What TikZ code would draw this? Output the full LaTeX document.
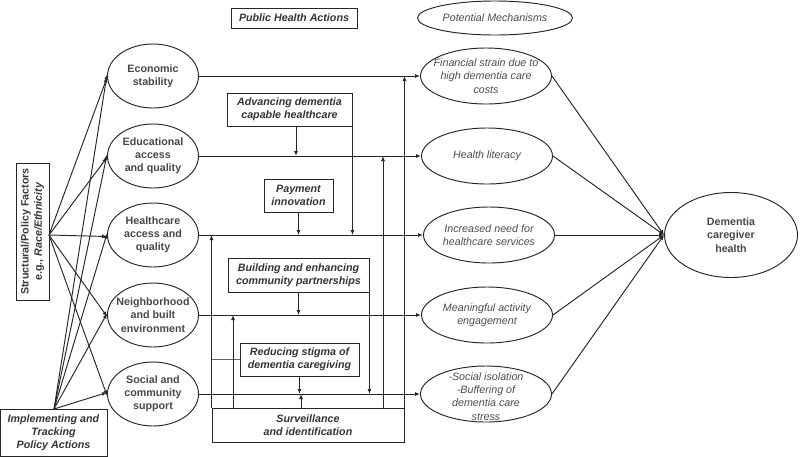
\documentclass[tikz,border=0pt]{standalone}
\usepackage{fontspec}
\setmainfont{Liberation Sans}
\usetikzlibrary{shapes.geometric,arrows.meta}
\newcommand\fsz{\fontsize{10.7}{13.2}\selectfont}
\begin{document}
\begin{tikzpicture}[x=1pt,y=-1pt,
  ln/.style={draw=black!85, line width=0.95pt},
  arr/.style={ln, -{Latex[length=5pt,width=4pt]}},
  lell/.style={ellipse, draw=black!85, line width=0.95pt, minimum width=91pt, minimum height=64pt, inner sep=0pt},
  mell/.style={ellipse, draw=black!85, line width=0.95pt, minimum width=131pt, minimum height=56pt, inner sep=0pt},
  ltxt/.style={align=center, font=\fsz\bfseries, text=black!72, inner sep=0pt},
  mtxt/.style={align=center, font=\fsz\itshape, text=black!70, inner sep=0pt},
  abox/.style={draw=black!85, line width=0.95pt, align=center, font=\fsz\bfseries\itshape, text=black!80, inner sep=2pt}
]
\useasboundingbox (0,0) rectangle (800,456);

% header
\node[abox, minimum width=126pt, minimum height=20pt] (pha) at (294,18) {Public Health Actions};
\node[ellipse, draw=black!85, line width=0.95pt, minimum width=155pt, minimum height=34pt, inner sep=0pt] (pm) at (495,18) {};
\node[mtxt] (pmt) at (pm) {Potential Mechanisms};

% left factor boxes
\node[draw=black!85, line width=0.95pt, rotate=90, minimum width=137pt, minimum height=33pt, inner sep=2pt, align=center, font=\fsz\bfseries, text=black!78] (spf) at (32.5,231.5) {Structural/Policy Factors\\e.g., \textit{Race/Ethnicity}};
\node[abox, minimum width=107pt, minimum height=47pt] (impl) at (53.5,432.5) {Implementing and\\Tracking\\Policy Actions};
\coordinate (sp) at (49,235);
\coordinate (ip) at (54,409);

% social determinant ellipses
\node[lell] (eco) at (153,76) {};
\node[ltxt] (ecot) at (eco) {Economic\\stability};
\node[lell] (edu) at (153,156) {};
\node[ltxt] (edut) at (edu) {Educational\\access\\and quality};
\node[lell] (hca) at (153,235) {};
\node[ltxt] (hcat) at (hca) {Healthcare\\access and\\quality};
\node[lell] (nbh) at (153,315) {};
\node[ltxt] (nbht) at (nbh) {Neighborhood\\and built\\environment};
\node[lell] (soc) at (153,394) {};
\node[ltxt] (soct) at (soc) {Social and\\community\\support};

% mechanism ellipses
\node[mell] (fin) at (486,76) {};
\node[mtxt] (fint) at (fin) {Financial strain due to\\high dementia care\\costs};
\node[mell] (hl) at (487,156) {};
\node[mtxt] (hlt) at (hl) {Health literacy};
\node[mell] (inc) at (489,235) {};
\node[mtxt] (inct) at (inc) {Increased need for\\healthcare services};
\node[mell] (mae) at (487,315) {};
\node[mtxt] (maet) at (mae) {Meaningful activity\\engagement};
\node[mell] (sis) at (486,394) {};
\node[mtxt] (sist) at ([yshift=-2.5pt]sis) {-Social isolation\\-Buffering of\\dementia care\\stress};

% outcome
\node[ellipse, draw=black!85, line width=0.95pt, minimum width=133pt, minimum height=85pt, inner sep=0pt] (dch) at (731,235) {};
\node[ltxt] (dcht) at (dch) {Dementia\\caregiver\\health};

% action boxes
\node[abox, minimum width=125pt, minimum height=33pt] (adv) at (289.5,109.5) {Advancing dementia\\capable healthcare};
\node[abox, minimum width=69pt, minimum height=33pt] (pay) at (298.5,195.5) {Payment\\innovation};
\node[abox, minimum width=141pt, minimum height=34pt] (bld) at (298.5,275) {Building and enhancing\\community partnerships};
\node[abox, minimum width=119pt, minimum height=33pt] (stg) at (299.5,359.5) {Reducing stigma of\\dementia caregiving};
\node[abox, minimum width=192pt, minimum height=34pt] (sur) at (308,425) {Surveillance\\and identification};

% arrows from policy factors
\foreach \n in {eco,edu,hca,nbh,soc} {
  \draw[arr] (sp) -- ([yshift=-1.5pt]\n.west);
  \draw[arr] (ip) -- ([yshift=1.5pt]\n.west);
}

% horizontal pathways
\draw[arr] (eco.east) -- (eco.east -| fin.west);
\draw[arr] (edu.east) -- (edu.east -| hl.west);
\draw[arr] (hca.east) -- (hca.east -| inc.west);
\draw[arr] (nbh.east) -- (nbh.east -| mae.west);
\draw[arr] (soc.east) -- (soc.east -| sis.west);

% action arrows onto pathways
\draw[arr] ([xshift=6.5pt]adv.south) -- ([xshift=6.5pt]adv.south |- edu.east);
\draw[arr] (adv.south east) -- (adv.south east |- hca.east);
\draw[arr] (pay.south) -- (pay.south |- hca.east);
\draw[arr] (bld.south) -- (bld.south |- nbh.east);
\draw[arr] (bld.south east) -- (bld.south east |- soc.east);
\draw[arr] (stg.south) -- (stg.south |- soc.east);
\draw[draw=black!60, line width=0.5pt] (stg.west) -- (stg.west -| sur.west);

% surveillance arrows
\coordinate (s1) at (233,408);
\coordinate (s2) at (301,408);
\coordinate (s3) at (383,408);
\draw[arr] (sur.north west) -- (sur.north west |- hca.east);
\draw[arr] (s1) -- (s1 |- nbh.east);
\draw[arr] (s2) -- (s2 |- soc.east);
\draw[arr] (s3) -- (s3 |- edu.east);
\draw[arr] (sur.north east) -- (sur.north east |- eco.east);

% mechanisms to outcome
\foreach \m in {fin,hl,inc,mae,sis} {
  \draw[arr] (\m.east) -- (dch.west);
}
\end{tikzpicture}
\end{document}
